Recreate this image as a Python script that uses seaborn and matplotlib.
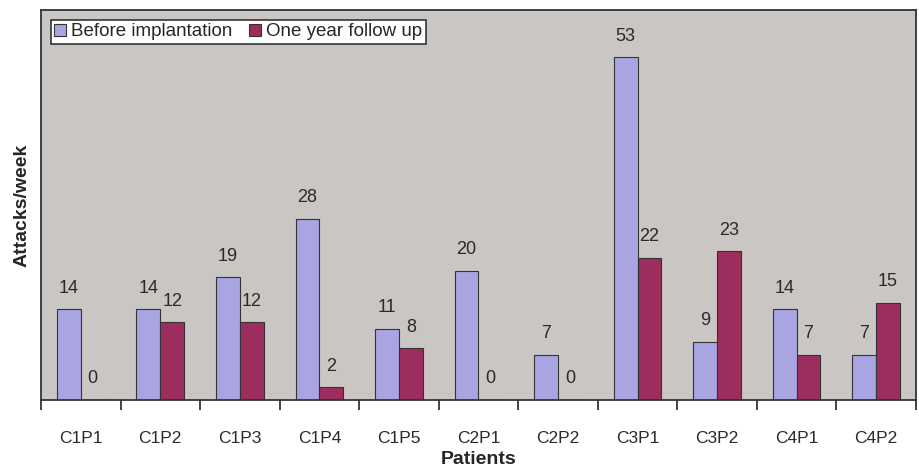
import matplotlib
matplotlib.use("Agg")
import matplotlib.pyplot as plt
import seaborn as sns
import pandas as pd
import numpy as np

patients = ["C1P1", "C1P2", "C1P3", "C1P4", "C1P5", "C2P1", "C2P2", "C3P1", "C3P2", "C4P1", "C4P2"]
before = [14, 14, 19, 28, 11, 20, 7, 53, 9, 14, 7]
after = [0, 12, 12, 2, 8, 0, 0, 22, 23, 7, 15]
series = ["Before implantation", "One year follow up"]
colors = ["#A9A5E2", "#9C2D5E"]

df = pd.DataFrame({
    "Patients": patients * 2,
    "Attacks/week": before + after,
    "Series": [series[0]] * len(patients) + [series[1]] * len(patients),
})

sns.set_style("white")
plt.rcParams["font.family"] = ["Liberation Sans", "DejaVu Sans"]

fig = plt.figure(figsize=(9.19, 4.70), dpi=100)
ax = fig.add_axes([0.0446, 0.149, 0.952, 0.830])
ax.set_facecolor("#C9C6C3")

sns.barplot(data=df, x="Patients", y="Attacks/week", hue="Series", order=patients,
            hue_order=series, palette=colors, width=0.6, gap=0, ax=ax,
            edgecolor="#333333", linewidth=0.8, saturation=1, errorbar=None)

for cont in ax.containers:
    ax.bar_label(cont, padding=9, fontsize=13, color="#2a2a2a")

ax.set_ylim(0, 60.3)
ax.set_xlim(-0.5, len(patients) - 0.5)
ax.set_yticks([])
ax.set_xticks(range(len(patients)))
ax.set_xticklabels(patients, fontsize=12.5, color="#2a2a2a")
ax.set_xticks(np.arange(-0.5, len(patients)), minor=True)
ax.tick_params(axis="x", which="major", length=0, pad=22)
ax.tick_params(axis="x", which="minor", length=7, width=1.2, color="#222222", direction="out", bottom=True)
for s in ax.spines.values():
    s.set_color("#333333")
    s.set_linewidth(1.3)
ax.set_ylabel("Attacks/week", fontsize=14, fontweight="bold")
ax.yaxis.set_label_coords(-0.012, 0.5)
ax.set_xlabel("Patients", fontsize=14, fontweight="bold")
ax.xaxis.set_label_coords(0.5, -0.132)

leg = ax.legend(loc="upper left", bbox_to_anchor=(0.011, 0.975), ncol=2, frameon=True,
                fontsize=13.5, handlelength=0.6, handleheight=0.6, handletextpad=0.3,
                columnspacing=0.9, borderpad=0.2, fancybox=False, borderaxespad=0)
leg.get_frame().set_edgecolor("#333333")
leg.get_frame().set_linewidth(1.2)
leg.get_frame().set_facecolor("white")
leg.get_frame().set_alpha(1)

fig.savefig("out.png", dpi=100)
